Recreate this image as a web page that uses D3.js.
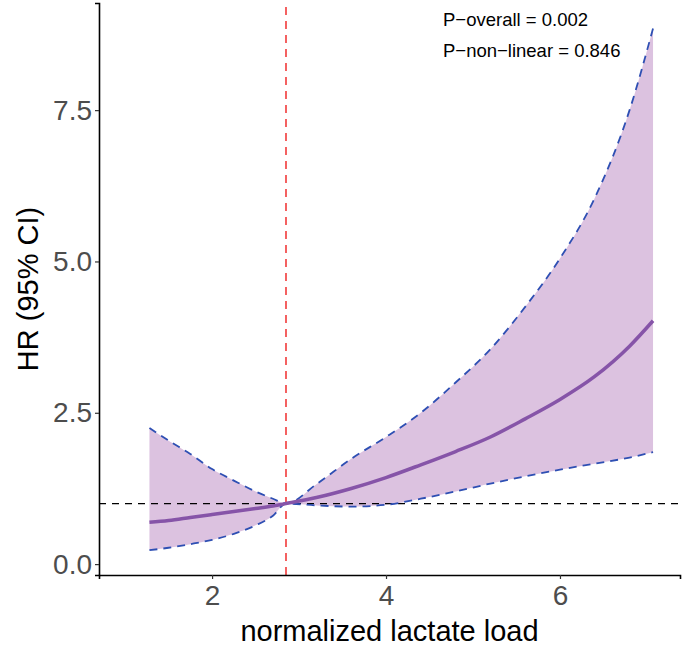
<!DOCTYPE html>
<html>
<head>
<meta charset="utf-8">
<script src="https://cdn.jsdelivr.net/npm/d3@7"></script>
<style>
  body { margin: 0; background: #fff; }
  text { font-family: "Liberation Sans", Arial, sans-serif; }
</style>
</head>
<body>
<div id="chart"></div>
<script>
// Spline values
var lactate = [1.28, 1.5, 1.75, 2.0, 2.25, 2.5, 2.7, 2.85, 3.2, 3.6, 4.0, 4.4, 4.8, 5.2, 5.6, 6.0, 6.4, 6.8, 7.07]
var hr      = [0.69, 0.72, 0.77, 0.82, 0.87, 0.92, 0.96, 1.0, 1.1, 1.25, 1.43, 1.64, 1.86, 2.1, 2.4, 2.72, 3.1, 3.6, 4.02]
var hrUpper = [2.25, 2.04, 1.82, 1.57, 1.38, 1.2, 1.08, 1.0, 1.32, 1.74, 2.1, 2.5, 3.0, 3.55, 4.25, 5.05, 6.05, 7.5, 8.85]
var hrLower = [0.23, 0.27, 0.33, 0.40, 0.5, 0.64, 0.8, 1.0, 0.97, 0.95, 0.98, 1.08, 1.2, 1.33, 1.45, 1.56, 1.66, 1.76, 1.85]
var refValue = 2.85
var xTicks = [2, 4, 6]
var yTicks = [0, 2.5, 5, 7.5]
var annotations = ["P\u2212overall = 0.002", "P\u2212non\u2212linear = 0.846"]

var width = 683, height = 647
var margin = { top: 3, right: 3, bottom: 72, left: 99 }

var svg = d3.select("#chart").append("svg")
  .attr("width", width)
  .attr("height", height)

// Scales
var x = d3.scaleLinear()
  .domain([0.70, 7.38])
  .range([margin.left, width - margin.right])
var y = d3.scaleLinear()
  .domain([-0.18, 9.27])
  .range([height - margin.bottom, margin.top])

var data = lactate.map((d, i) => ({ x: d, hr: hr[i], lo: hrLower[i], hi: hrUpper[i] }))

// CI ribbon
var area = d3.area()
  .x(d => x(d.x))
  .y0(d => y(d.lo))
  .y1(d => y(d.hi))
  .curve(d3.curveMonotoneX)

svg.append("path")
  .datum(data)
  .attr("fill", "#dcc2e0")
  .attr("d", area)

// Reference lines
svg.append("line")
  .attr("x1", x.range()[0]).attr("x2", x.range()[1])
  .attr("y1", y(1)).attr("y2", y(1))
  .attr("stroke", "#000")
  .attr("stroke-width", 1.4)
  .attr("stroke-dasharray", "7,6")

svg.append("line")
  .attr("x1", x(refValue)).attr("x2", x(refValue))
  .attr("y1", y.range()[0]).attr("y2", y.range()[1])
  .attr("stroke", "#f23b3b")
  .attr("stroke-width", 1.6)
  .attr("stroke-dasharray", "8,6")

// CI bounds
function line(key) {
  return d3.line().x(d => x(d.x)).y(d => y(d[key])).curve(d3.curveMonotoneX)
}

;["lo", "hi"].forEach(k => {
  svg.append("path")
    .datum(data)
    .attr("fill", "none")
    .attr("stroke", "#2e4fb3")
    .attr("stroke-width", 1.8)
    .attr("stroke-dasharray", "8,6")
    .attr("d", line(k))
})

// Main HR curve
svg.append("path")
  .datum(data)
  .attr("fill", "none")
  .attr("stroke", "#8654a8")
  .attr("stroke-width", 3.5)
  .attr("d", line("hr"))

// Axes
function xAxis(g) {
  g.call(d3.axisBottom(x).tickValues(xTicks).tickSize(4).tickPadding(6).tickFormat(d3.format("d")))
  g.select(".domain").attr("stroke", "#000").attr("stroke-width", 1.6)
  g.selectAll(".tick line").attr("stroke", "#333").attr("stroke-width", 1.2)
  g.selectAll(".tick text").attr("fill", "#4d4d4d").style("font-size", "28px")
}

function yAxis(g) {
  g.call(d3.axisLeft(y).tickValues(yTicks).tickSize(4).tickPadding(3).tickFormat(d3.format(".1f")))
  g.select(".domain").attr("stroke", "#000").attr("stroke-width", 1.6)
  g.selectAll(".tick line").attr("stroke", "#333").attr("stroke-width", 1.2)
  g.selectAll(".tick text").attr("fill", "#4d4d4d").style("font-size", "28px")
}

svg.append("g")
  .attr("transform", `translate(0,${height - margin.bottom})`)
  .call(xAxis)
svg.append("g")
  .attr("transform", `translate(${margin.left},0)`)
  .call(yAxis)

// Titles
svg.append("text")
  .attr("x", (margin.left + width - margin.right) / 2)
  .attr("y", 641)
  .attr("text-anchor", "middle")
  .style("font-size", "29px")
  .text("normalized lactate load")

svg.append("text")
  .attr("transform", `translate(38,${(margin.top + height - margin.bottom) / 2}) rotate(-90)`)
  .attr("text-anchor", "middle")
  .style("font-size", "29px")
  .text("HR (95% CI)")

svg.selectAll(".annot")
  .data(annotations)
  .enter().append("text")
  .attr("class", "annot")
  .attr("x", 443)
  .attr("y", (d, i) => 26 + i * 31)
  .style("font-size", "18.5px")
  .text(d => d)
</script>
</body>
</html>
